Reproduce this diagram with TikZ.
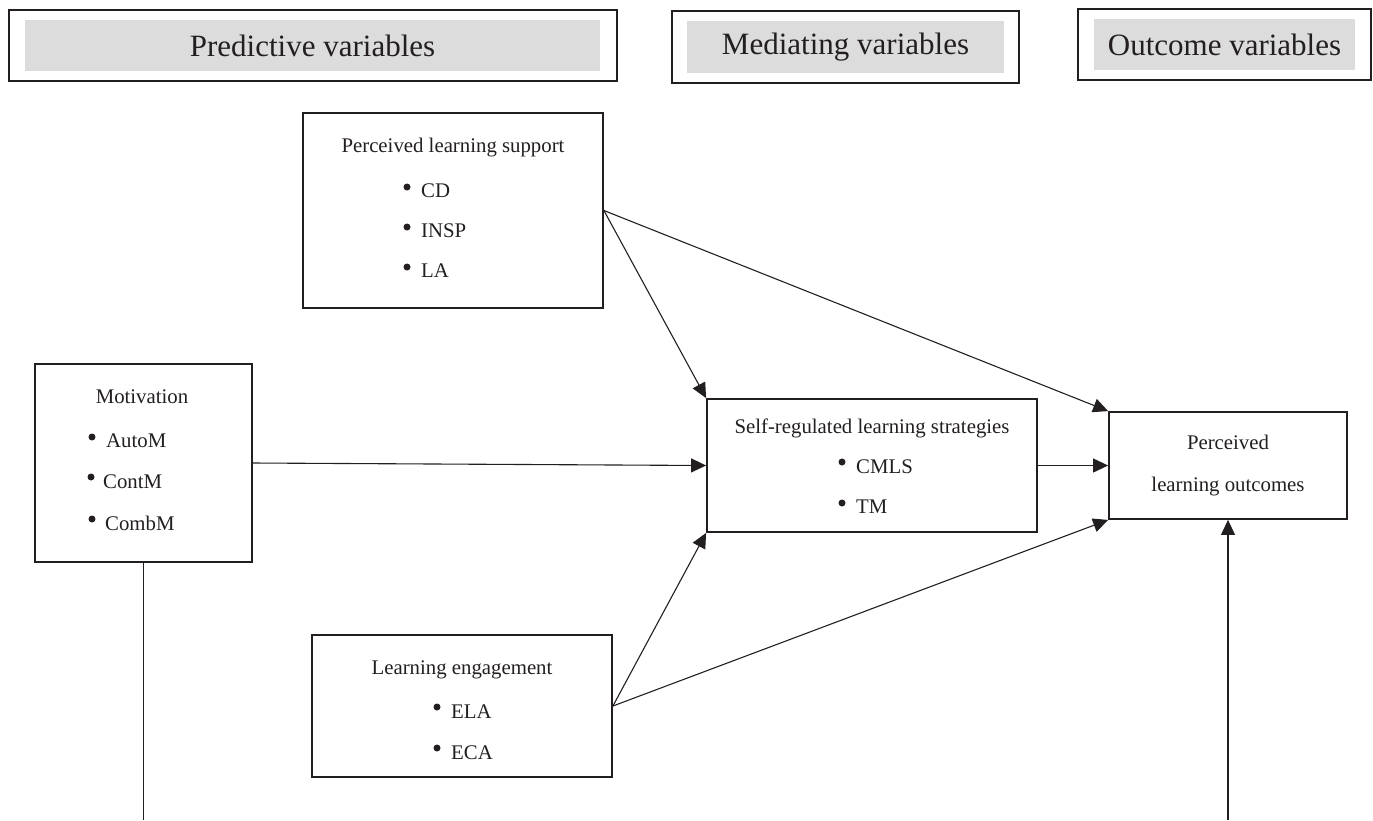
\documentclass[tikz,border=0pt]{standalone}
\usepackage{fontspec}
\setmainfont{Liberation Serif}
\usetikzlibrary{arrows.meta}
\definecolor{ink}{HTML}{231F20}
\definecolor{hdrgray}{HTML}{DCDCDC}
\begin{document}
\begin{tikzpicture}[x=1pt,y=-1pt,
  box/.style={draw=ink,line width=1.8pt,inner sep=0pt,fill=white},
  hdr/.style={fill=hdrgray,inner sep=0pt,text=ink,font=\fontsize{31}{36}\selectfont},
  lab/.style={inner sep=0pt,text=ink,font=\fontsize{20.8}{24}\selectfont},
  dot/.style={fill=ink},
  conn/.style={draw=ink,line width=1.1pt,-{Triangle[length=15pt,width=14pt]}},
  plain/.style={draw=ink,line width=1.1pt}]
\useasboundingbox (0,0) rectangle (1373,820);
% header boxes
\node[box,minimum width=608pt,minimum height=71pt] (h1) at (313,45.5) {};
\node[hdr,minimum width=575pt,minimum height=51pt] (h1t) at (312.5,45.5) {Predictive variables};
\node[box,minimum width=347pt,minimum height=72pt] (h2) at (845.5,47) {};
\node[hdr,minimum width=317pt,minimum height=52pt] (h2t) at (845.5,47) {Mediating variables};
\node[box,minimum width=293pt,minimum height=71pt] (h3) at (1224.5,44.5) {};
\node[hdr,minimum width=261pt,minimum height=51pt] (h3t) at (1224.5,44.5) {Outcome variables};
% main boxes
\node[box,minimum width=300pt,minimum height=195pt] (pls) at (453,210.5) {};
\node[box,minimum width=217pt,minimum height=198pt] (mot) at (143.5,463) {};
\node[box,minimum width=300pt,minimum height=142pt] (le) at (462,706) {};
\node[box,minimum width=330pt,minimum height=133pt] (srl) at (872,465.5) {};
\node[box,minimum width=238pt,minimum height=107pt] (plo) at (1228,465.5) {};
% PLS texts
\node[lab,anchor=base] (plsT) at (453,152) {Perceived learning support};
\fill[dot] (407,187) circle[radius=3.5pt];
\node[lab,anchor=base west] (plsA) at (421,197) {CD};
\fill[dot] (407,227) circle[radius=3.5pt];
\node[lab,anchor=base west] (plsB) at (421,237) {INSP};
\fill[dot] (407,267) circle[radius=3.5pt];
\node[lab,anchor=base west] (plsC) at (421,277) {LA};
% Motivation texts
\node[lab,anchor=base] (motT) at (142,403) {Motivation};
\fill[dot] (92,437) circle[radius=3.5pt];
\node[lab,anchor=base west] (motA) at (106,447) {AutoM};
\fill[dot] (91,477) circle[radius=3.5pt];
\node[lab,anchor=base west] (motB) at (103,488) {ContM};
\fill[dot] (92,519) circle[radius=3.5pt];
\node[lab,anchor=base west] (motC) at (105,530) {CombM};
% LE texts
\node[lab,anchor=base] (leT) at (462,674) {Learning engagement};
\fill[dot] (437,707) circle[radius=3.5pt];
\node[lab,anchor=base west] (leA) at (451,718) {ELA};
\fill[dot] (437,748) circle[radius=3.5pt];
\node[lab,anchor=base west] (leB) at (451,759) {ECA};
% SRL texts
\node[lab,anchor=base] (srlT) at (872,433) {Self-regulated learning strategies};
\fill[dot] (842,462) circle[radius=3.5pt];
\node[lab,anchor=base west] (srlA) at (856,473) {CMLS};
\fill[dot] (842,503) circle[radius=3.5pt];
\node[lab,anchor=base west] (srlB) at (856,513) {TM};
% PLO texts
\node[lab,anchor=base] (ploA) at (1228,449) {Perceived};
\node[lab,anchor=base] (ploB) at (1228,491) {learning outcomes};
% connectors
\coordinate (botL) at (143.5,820);
\coordinate (botR) at (1228,820);
\draw[conn] (pls.east) -- (srl.north west);
\draw[conn] (pls.east) -- (plo.north west);
\draw[conn] (le.east) -- (srl.south west);
\draw[conn] (le.east) -- (plo.south west);
\draw[conn] (mot.east) -- (srl.west);
\draw[conn] (srl.east) -- (plo.west);
\draw[plain] (mot.south) -- (botL);
\draw[conn] (botR) -- (plo.south);
\end{tikzpicture}
\end{document}
